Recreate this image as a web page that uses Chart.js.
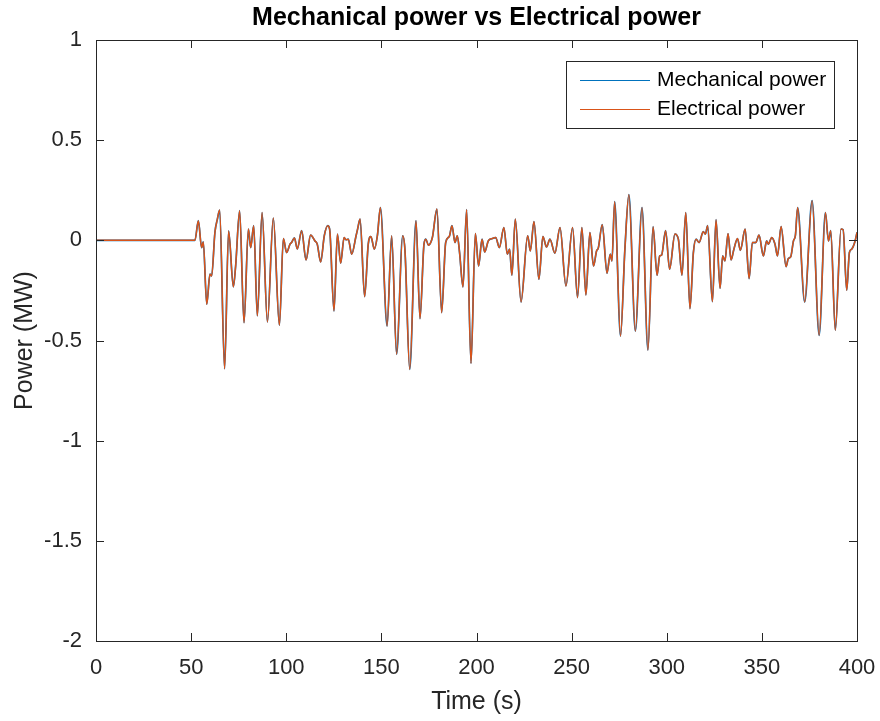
<!DOCTYPE html>
<html lang="en">
<head>
  <meta charset="UTF-8">
  <title>Mechanical power vs Electrical power</title>
  <script src="https://cdn.jsdelivr.net/npm/chart.js"></script>
  <style>
    html, body {
      margin: 0;
      padding: 0;
      background: #fff;
    }
    canvas {
      display: block;
    }
  </style>
</head>
<body>

<canvas id="powerChart" width="880" height="721"></canvas>

<script>
  // time samples (s) at the turning points of the signal
  const timeS = [
    0, 52, 53.8, 55.5, 56.4, 58.2, 59.9, 60.8, 62.5, 63.8, 65.0, 67.6, 69.7, 72.2, 73.4, 75.5,
    77.8, 80.1, 81.3, 82.9, 84.8, 87.3, 90.1, 93.2, 96.4, 98.5, 100.2, 102.0, 102.8, 104.3,
    105.8, 108.1, 110.4, 112.8, 115.1, 116.3, 118.1, 120.0, 121.8, 122.8, 125.1, 126.9, 128.6,
    130.4, 131.4, 132.6, 134.4, 136.7, 137.5, 138.8, 141.2, 143.1, 144.5, 146.3, 147.9, 149.5,
    153.0, 155.4, 158.0, 161.2, 162.4, 164.9, 168.2, 170.3, 172.4, 173.4, 174.7, 176.8, 179.2,
    181.7, 183.8, 185.7, 187.1, 188.7, 189.9, 191.1, 192.9, 194.8, 197.1, 199.4, 201.1, 202.9,
    204.3, 206.2, 208.3, 210.1, 212.0, 214.4, 216.2, 217.4, 218.6, 220.4, 223.4, 226.9, 228.3,
    230.2, 232.8, 234.9, 236.8, 238.6, 241.2, 243.9, 247.0, 250.5, 253.1, 255.4, 257.5, 259.6,
    261.5, 263.1, 264.0, 266.1, 268.6, 270.3, 271.2, 272.6, 275.7, 278.0, 280.1, 283.5, 287.0,
    290.1, 292.8, 294.9, 296.3, 297.3, 299.4, 301.5, 304.3, 306.1, 308.0, 310.0, 312.2, 314.0,
    315.4, 317.0, 319.2, 320.3, 321.5, 324.0, 325.9, 328.0, 329.4, 330.6, 332.2, 333.8, 335.3,
    337.2, 338.7, 341.2, 343.3, 345.0, 346.8, 348.5, 350.8, 352.5, 353.4, 355.2, 356.9, 358.2,
    360.1, 362.7, 363.9, 365.2, 366.6, 367.6, 368.8, 372.5, 376.4, 380.1, 383.4, 385.0, 386.2,
    388.6, 391.6, 392.7, 394.6, 396.0, 397.2, 399.0, 400
  ];

  // mechanical power (MW)
  const mechanicalPower = [
    0, 0, 0.098, -0.036, -0.008, -0.319, -0.169, -0.178, 0.039, 0.106, 0.151, -0.641, 0.047, -0.232, -0.128, 0.148,
    -0.411, 0.056, -0.036, 0.073, -0.377, 0.139, -0.408, 0.111, -0.424, 0.009, -0.061, -0.019, -0.011, 0.012,
    -0.043, 0.048, -0.098, 0.026, -0.003, -0.019, -0.108, 0.023, 0.073, 0.056, -0.353, 0.031, -0.114,
    0.014, 0.003, 0.006, -0.069, 0.023, 0.056, 0.106, -0.281, -0.019, 0.019, -0.044, 0.023, 0.164,
    -0.428, 0.023, -0.569, 0.023, -0.050, -0.644, 0.098, -0.391, -0.019, 0.006, -0.024, 0.014, 0.156,
    -0.361, -0.011, 0.019, 0.073, -0.011, 0.023, -0.061, -0.233, 0.153, -0.614, 0.034, -0.128, 0.006,
    -0.058, -0.003, 0.009, 0.014, -0.036, 0.064, -0.069, -0.044, -0.174, 0.106, -0.308, 0.023, -0.053,
    0.094, -0.194, 0.019, -0.033, 0.006, -0.064, 0.064, -0.228, 0.064, -0.286, 0.064, -0.273, 0.039,
    -0.128, -0.053, -0.039, 0.078, -0.164, -0.069, -0.103, 0.193, -0.478, -0.044, 0.228, -0.453, 0.164,
    -0.548, 0.068, -0.174, -0.078, -0.074, 0.048, -0.144, 0.031, 0.006, -0.174, 0.139, -0.341, -0.061,
    0.006, -0.011, 0.043, 0.031, 0.073, -0.306, 0.103, -0.239, -0.078, -0.103, 0.034, -0.098, -0.044,
    0.009, -0.050, 0.056, -0.191, -0.011, -0.011, 0.026, -0.078, -0.003, -0.019, 0.014, -0.019, -0.078,
    0.069, -0.131, -0.091, -0.081, -0.003, 0.023, 0.164, -0.308, 0.198, -0.474, 0.139, -0.003, 0.048,
    -0.449, 0.056, 0.053, -0.249, -0.061, -0.044, -0.003, 0.040
  ];

  // electrical power (MW) - lies on top of the mechanical curve
  const electricalPower = [
    0, 0, 0.098, -0.036, -0.008, -0.319, -0.169, -0.178, 0.039, 0.106, 0.151, -0.641, 0.047, -0.232, -0.128, 0.148,
    -0.411, 0.056, -0.036, 0.073, -0.377, 0.139, -0.408, 0.111, -0.424, 0.009, -0.061, -0.019, -0.011, 0.012,
    -0.043, 0.048, -0.098, 0.026, -0.003, -0.019, -0.108, 0.023, 0.073, 0.056, -0.353, 0.031, -0.114,
    0.014, 0.003, 0.006, -0.069, 0.023, 0.056, 0.106, -0.281, -0.019, 0.019, -0.044, 0.023, 0.164,
    -0.428, 0.023, -0.569, 0.023, -0.050, -0.644, 0.098, -0.391, -0.019, 0.006, -0.024, 0.014, 0.156,
    -0.361, -0.011, 0.019, 0.073, -0.011, 0.023, -0.061, -0.233, 0.153, -0.614, 0.034, -0.128, 0.006,
    -0.058, -0.003, 0.009, 0.014, -0.036, 0.064, -0.069, -0.044, -0.174, 0.106, -0.308, 0.023, -0.053,
    0.094, -0.194, 0.019, -0.033, 0.006, -0.064, 0.064, -0.228, 0.064, -0.286, 0.064, -0.273, 0.039,
    -0.128, -0.053, -0.039, 0.078, -0.164, -0.069, -0.103, 0.193, -0.478, -0.044, 0.228, -0.453, 0.164,
    -0.548, 0.068, -0.174, -0.078, -0.074, 0.048, -0.144, 0.031, 0.006, -0.174, 0.139, -0.341, -0.061,
    0.006, -0.011, 0.043, 0.031, 0.073, -0.306, 0.103, -0.239, -0.078, -0.103, 0.034, -0.098, -0.044,
    0.009, -0.050, 0.056, -0.191, -0.011, -0.011, 0.026, -0.078, -0.003, -0.019, 0.014, -0.019, -0.078,
    0.069, -0.131, -0.091, -0.081, -0.003, 0.023, 0.164, -0.308, 0.198, -0.474, 0.139, -0.003, 0.048,
    -0.449, 0.056, 0.053, -0.249, -0.061, -0.044, -0.003, 0.040
  ];

  const seriesLabels = ["Mechanical power", "Electrical power"];
  const seriesColors = ["#0072BD", "#D95319"];
  const xTicks = [0, 50, 100, 150, 200, 250, 300, 350, 400];
  const yTicks = [-2, -1.5, -1, -0.5, 0, 0.5, 1];

  const FONT = "'Liberation Sans', Arial, Helvetica, sans-serif";
  const AXIS_COLOR = "#262626";

  function toPoints(values) {
    return values.map((v, i) => ({ x: timeS[i], y: v }));
  }

  // MATLAB style box, inward ticks and legend inside the axes
  const matlabFrame = {
    id: "matlabFrame",
    afterDraw(chart) {
      const ctx = chart.ctx;
      const a = chart.chartArea;
      const xs = chart.scales.x;
      const ys = chart.scales.y;
      const tl = 8;

      ctx.save();
      ctx.strokeStyle = AXIS_COLOR;
      ctx.lineWidth = 1;
      ctx.beginPath();
      ctx.rect(Math.round(a.left) + 0.5, Math.round(a.top) + 0.5,
               Math.round(a.right - a.left), Math.round(a.bottom - a.top));
      xTicks.forEach(t => {
        const px = Math.round(xs.getPixelForValue(t)) + 0.5;
        ctx.moveTo(px, a.bottom); ctx.lineTo(px, a.bottom - tl);
        ctx.moveTo(px, a.top); ctx.lineTo(px, a.top + tl);
      });
      yTicks.forEach(t => {
        const py = Math.round(ys.getPixelForValue(t)) + 0.5;
        ctx.moveTo(a.left, py); ctx.lineTo(a.left + tl, py);
        ctx.moveTo(a.right, py); ctx.lineTo(a.right - tl, py);
      });
      ctx.stroke();

      // legend
      const lx = 566, ly = 61, lw = 268, lh = 67;
      ctx.fillStyle = "#fff";
      ctx.fillRect(lx, ly, lw, lh);
      ctx.strokeStyle = AXIS_COLOR;
      ctx.strokeRect(lx + 0.5, ly + 0.5, lw, lh);
      ctx.font = "21px " + FONT;
      ctx.textBaseline = "middle";
      ctx.textAlign = "left";
      chart.data.datasets.forEach((ds, i) => {
        const rowY = ly + 19.5 + i * 29;
        ctx.strokeStyle = ds.borderColor;
        ctx.lineWidth = 1;
        ctx.beginPath();
        ctx.moveTo(lx + 14, rowY);
        ctx.lineTo(lx + 84, rowY);
        ctx.stroke();
        ctx.fillStyle = "#000";
        ctx.fillText(ds.label, lx + 91, rowY);
      });
      ctx.restore();
    }
  };

  const ctx = document.getElementById("powerChart").getContext("2d");
  const chart = new Chart(ctx, {
    type: "line",
    data: {
      datasets: [
        {
          label: seriesLabels[0],
          data: toPoints(mechanicalPower),
          borderColor: seriesColors[0],
          borderWidth: 1.7,
          pointRadius: 0,
          tension: 0.4,
          cubicInterpolationMode: "monotone",
          order: 2
        },
        {
          label: seriesLabels[1],
          data: toPoints(electricalPower),
          borderColor: seriesColors[1],
          borderWidth: 1.5,
          pointRadius: 0,
          tension: 0.4,
          cubicInterpolationMode: "monotone",
          order: 1
        }
      ]
    },
    options: {
      responsive: false,
      animation: false,
      devicePixelRatio: 1,
      layout: { padding: { left: 0, right: 23, top: 0, bottom: 0 } },
      plugins: {
        legend: { display: false },
        tooltip: { enabled: false },
        title: {
          display: true,
          fullSize: false,
          text: "Mechanical power vs Electrical power",
          color: "#000",
          font: { family: FONT, size: 25, weight: "bold", lineHeight: 1.2 },
          padding: { top: 3, bottom: 7 }
        }
      },
      scales: {
        x: {
          type: "linear",
          min: 0,
          max: 400,
          afterFit: s => { s.height = 80; s.paddingLeft = 0; s.paddingRight = 0; },
          afterBuildTicks: s => { s.ticks = xTicks.map(v => ({ value: v })); },
          ticks: {
            color: AXIS_COLOR,
            font: { family: FONT, size: 22 },
            padding: 14,
            maxRotation: 0,
            callback: v => String(v)
          },
          grid: { display: true, drawOnChartArea: false, drawTicks: false },
          border: { color: AXIS_COLOR, width: 1 },
          title: {
            display: true,
            text: "Time (s)",
            color: AXIS_COLOR,
            font: { family: FONT, size: 25 },
            padding: { top: 0, bottom: 4 }
          }
        },
        y: {
          type: "linear",
          min: -2,
          max: 1,
          afterFit: s => { s.width = 96; s.paddingTop = 0; s.paddingBottom = 0; },
          afterBuildTicks: s => { s.ticks = yTicks.map(v => ({ value: v })); },
          ticks: {
            color: AXIS_COLOR,
            font: { family: FONT, size: 22 },
            padding: 14,
            callback: v => String(v)
          },
          grid: { display: true, drawOnChartArea: false, drawTicks: false },
          border: { color: AXIS_COLOR, width: 1 },
          title: {
            display: true,
            text: "Power (MW)",
            color: AXIS_COLOR,
            font: { family: FONT, size: 25 },
            padding: { top: 10, bottom: 0 }
          }
        }
      }
    },
    plugins: [matlabFrame]
  });
</script>

</body>
</html>
